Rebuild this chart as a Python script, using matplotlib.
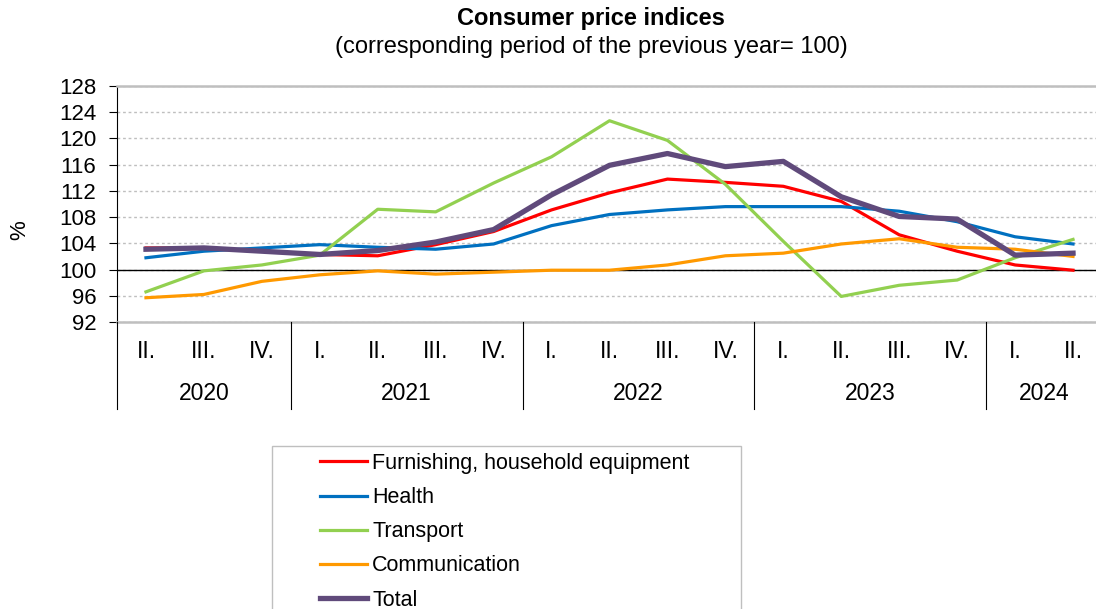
import matplotlib
matplotlib.use('Agg')
import matplotlib.pyplot as plt
from matplotlib.lines import Line2D
from matplotlib.patches import Rectangle
import matplotlib.transforms as transforms

plt.rcParams['font.family'] = ['Liberation Sans', 'DejaVu Sans']

# quarters from 2020 II. to 2024 II.
quarters = ['II.', 'III.', 'IV.',
            'I.', 'II.', 'III.', 'IV.',
            'I.', 'II.', 'III.', 'IV.',
            'I.', 'II.', 'III.', 'IV.',
            'I.', 'II.']
years = ['2020', '2021', '2022', '2023', '2024']
year_sizes = [3, 4, 4, 4, 2]

furnishing = [103.3, 103.3, 102.8, 102.3, 102.1, 103.8, 105.8, 109.1, 111.7, 113.8,
              113.3, 112.7, 110.4, 105.3, 102.8, 100.7, 99.9]
health = [101.8, 102.8, 103.3, 103.8, 103.4, 103.1, 103.9, 106.7, 108.4, 109.1,
          109.6, 109.6, 109.6, 108.9, 107.3, 105.0, 103.9]
transport = [96.6, 99.8, 100.7, 102.2, 109.2, 108.8, 113.2, 117.2, 122.7, 119.7,
             113.0, 104.3, 95.9, 97.6, 98.4, 101.8, 104.6]
communication = [95.7, 96.2, 98.2, 99.2, 99.8, 99.3, 99.6, 99.9, 99.9, 100.7,
                 102.1, 102.5, 103.9, 104.7, 103.4, 103.1, 102.0]
total = [103.1, 103.3, 102.8, 102.3, 102.9, 104.2, 106.1, 111.4, 115.9, 117.7,
         115.7, 116.5, 111.1, 108.1, 107.7, 102.2, 102.5]

W, H = 1096, 609
fig = plt.figure(figsize=(W / 100, H / 100), dpi=100)
ax = fig.add_axes([117 / W, 1 - 322 / H, 985 / W, 236 / H])

x = list(range(len(quarters)))
ax.plot(x, furnishing, color='#FF0000', lw=2.3, label='Furnishing, household equipment', zorder=3)
ax.plot(x, health, color='#0070C0', lw=2.3, label='Health', zorder=3)
ax.plot(x, transport, color='#92D050', lw=2.3, label='Transport', zorder=3)
ax.plot(x, communication, color='#FF9900', lw=2.3, label='Communication', zorder=3)
ax.plot(x, total, color='#604A7B', lw=3.8, label='Total', zorder=4)

ax.set_xlim(-0.5, len(quarters) - 0.5)
ax.set_ylim(92, 128)
ax.set_yticks(range(92, 129, 4))
ax.tick_params(axis='y', labelsize=16, length=6, direction='out', pad=9)
ax.set_xticks([])
ax.grid(axis='y', color='#BFBFBF', linestyle=(0, (2, 2)), lw=1)
ax.axhline(100, color='black', lw=1, zorder=2)
ax.spines['left'].set_color('black')
ax.spines['top'].set_color('#BFBFBF')
ax.spines['bottom'].set_color('#BFBFBF')
ax.spines['top'].set_linewidth(1.8)
ax.spines['bottom'].set_linewidth(1.8)
ax.spines['right'].set_visible(False)
fig.text(20 / W, 1 - 230 / H, '%', rotation=90, ha='center', va='center', fontsize=16)

# category axis: quarters, years and separators
trans = transforms.blended_transform_factory(ax.transData, fig.transFigure)
for i, q in enumerate(quarters):
    ax.text(i, 1 - 351 / H, q, transform=trans, ha='center', va='center', fontsize=16.5)
start = 0
for yr, n in zip(years, year_sizes):
    ax.text(start + (n - 1) / 2, 1 - 394 / H, yr, transform=trans, ha='center', va='center', fontsize=16.5)
    fig.add_artist(Line2D([start - 0.5, start - 0.5], [1 - 322 / H, 1 - 409 / H],
                          transform=trans, color='black', lw=0.8))
    start += n

fig.text(591 / W, 1 - 19 / H, 'Consumer price indices', ha='center', va='center',
         fontsize=17, fontweight='bold')
fig.text(591 / W, 1 - 47 / H, '(corresponding period of the previous year= 100)',
         ha='center', va='center', fontsize=17)

# legend box runs off the bottom edge
fig.add_artist(Rectangle((272 / W, -0.05), 469 / W, 1 - 446 / H + 0.05,
                         transform=fig.transFigure, fill=False, edgecolor='#BFBFBF', lw=1))
fig.legend(loc='upper left', bbox_to_anchor=(320 / W, 1 - 453 / H), frameon=False,
           fontsize=15.5, borderpad=0, borderaxespad=0, handlelength=2.2,
           handletextpad=0.23, labelspacing=0.61)

fig.savefig('out.png', dpi=100)
